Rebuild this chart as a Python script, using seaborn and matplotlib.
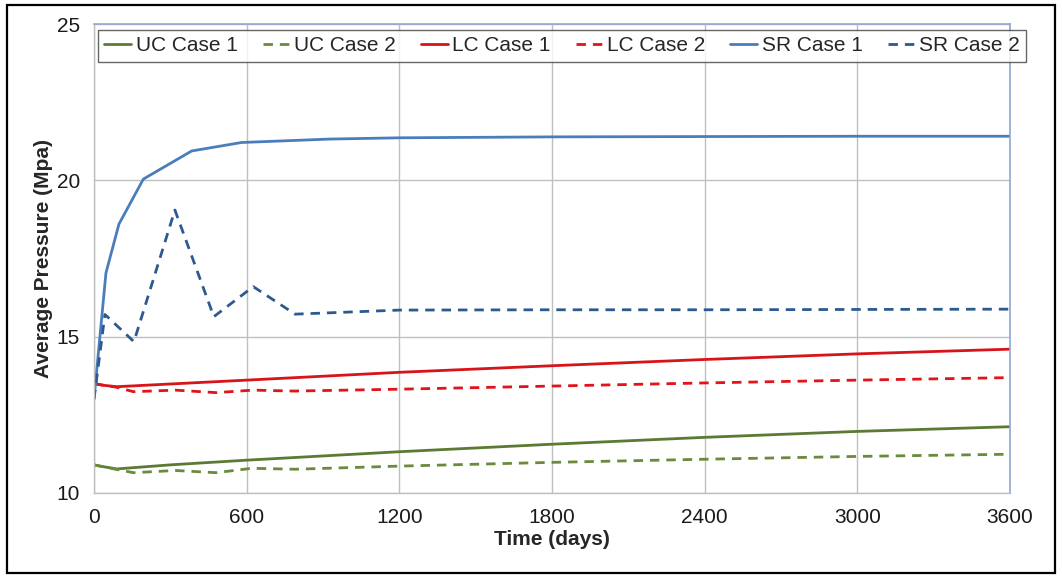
import numpy as np
import pandas as pd
import matplotlib
matplotlib.use("Agg")
import matplotlib.pyplot as plt
import seaborn as sns
from matplotlib.patches import Rectangle

# 시간 (days) 과 평균 압력 (MPa) - 그림에서 읽은 값
uc1_t = [0, 30, 90, 300, 600, 1200, 1800, 2400, 3000, 3600]
uc1_p = [10.90, 10.85, 10.77, 10.90, 11.05, 11.32, 11.56, 11.78, 11.97, 12.12]

uc2_t = [0, 60, 155, 320, 480, 620, 790, 1200, 1800, 2400, 3000, 3600]
uc2_p = [10.90, 10.80, 10.65, 10.72, 10.65, 10.79, 10.76, 10.86, 10.98, 11.08, 11.17, 11.24]

lc1_t = [0, 30, 90, 600, 1200, 1800, 2400, 3000, 3600]
lc1_p = [13.50, 13.45, 13.40, 13.61, 13.86, 14.07, 14.27, 14.45, 14.60]

lc2_t = [0, 90, 155, 320, 480, 625, 785, 1200, 1800, 2400, 3000, 3600]
lc2_p = [13.50, 13.38, 13.24, 13.29, 13.21, 13.29, 13.26, 13.32, 13.42, 13.52, 13.61, 13.69]

sr1_t = [0, 47, 98, 194, 384, 580, 927, 1200, 1800, 2400, 3000, 3600]
sr1_p = [13.00, 17.04, 18.60, 20.04, 20.94, 21.21, 21.32, 21.36, 21.39, 21.40, 21.41, 21.41]

sr2_t = [0, 43, 157, 318, 471, 626, 790, 1200, 1800, 2400, 3000, 3600]
sr2_p = [13.00, 15.71, 14.84, 19.05, 15.64, 16.60, 15.72, 15.85, 15.86, 15.86, 15.87, 15.88]

series = [
    ('UC Case 1', uc1_t, uc1_p, '#5B7A34', '-'),
    ('UC Case 2', uc2_t, uc2_p, '#6B8A3C', '--'),
    ('LC Case 1', lc1_t, lc1_p, '#D7141A', '-'),
    ('LC Case 2', lc2_t, lc2_p, '#E0141A', '--'),
    ('SR Case 1', sr1_t, sr1_p, '#4A7EBB', '-'),
    ('SR Case 2', sr2_t, sr2_p, '#2C5A90', '--'),
]

sns.set_theme(style="whitegrid")
plt.rcParams['font.family'] = ['Liberation Sans', 'DejaVu Sans']

fig = plt.figure(figsize=(10.62, 5.76), dpi=100)
ax = fig.add_axes([94 / 1062, 1 - 493 / 576, 916 / 1062, 469 / 576])

for name, t, p, color, ls in series:
    df = pd.DataFrame({'t': t, 'p': p})
    sns.lineplot(data=df, x='t', y='p', ax=ax, color=color, linewidth=2.0,
                 label=name, estimator=None, sort=False)
    if ls == '--':
        ax.lines[-1].set_dashes((3.4, 2.5))

ax.set_xlim(0, 3600)
ax.set_ylim(10, 25)
ax.set_xticks(np.arange(0, 3601, 600))
ax.set_yticks([10, 15, 20, 25])
ax.grid(True, color='#BFBFBF', linewidth=1.0)
ax.tick_params(axis='both', labelsize=15, length=6, width=1.0, color='#BFBFBF',
               direction='out', pad=4, labelcolor='#1A1A1A')
ax.tick_params(axis='x', pad=5)

for side in ['left', 'bottom']:
    ax.spines[side].set_color('#BFBFBF')
    ax.spines[side].set_linewidth(1.0)
for side in ['top', 'right']:
    ax.spines[side].set_color('#8FA8D2')
    ax.spines[side].set_linewidth(1.2)

ax.set_xlabel('Time (days)', fontsize=15, fontweight='bold', labelpad=2)
ax.set_ylabel('Average Pressure (Mpa)', fontsize=15, fontweight='bold', labelpad=3)

leg = ax.legend(ncol=6, loc='upper left',
                bbox_to_anchor=(4 / 916, 1 - 36 / 469, 928 / 916, 30 / 469),
                mode='expand', fontsize=15, frameon=True, fancybox=False,
                handlelength=1.3, handletextpad=0.2, borderaxespad=0, columnspacing=1.0,
                borderpad=0.3)
leg.get_frame().set_edgecolor('#404040')
leg.get_frame().set_linewidth(1.0)

# 그림 바깥 테두리
fig.patches.append(Rectangle((7 / 1062, 3 / 576), 1048 / 1062, 568 / 576, transform=fig.transFigure,
                             fill=False, edgecolor='black', linewidth=1.6))

fig.savefig('out.png', dpi=100)
